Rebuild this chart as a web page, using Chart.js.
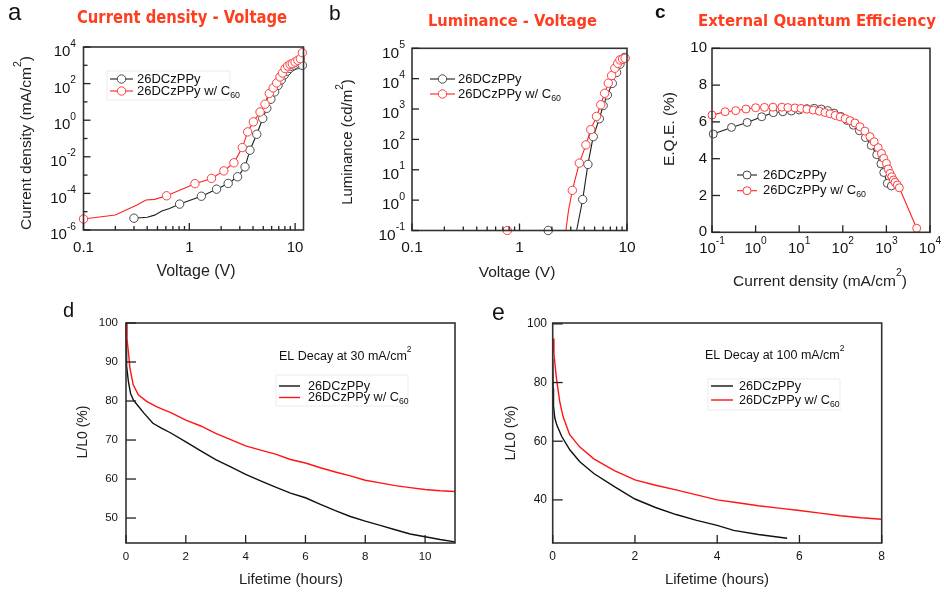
<!DOCTYPE html>
<html><head><meta charset="utf-8">
<script src="https://cdn.jsdelivr.net/npm/chart.js@4"></script>
<style>
html,body{margin:0;padding:0;background:#fff;}
#wrap{position:relative;width:944px;height:594px;overflow:hidden;background:#fff;}
#wrap canvas{position:absolute;left:0;top:0;}
</style></head><body><div id="wrap">
<canvas id="ca" width="944" height="594"></canvas>
<canvas id="cb" width="944" height="594"></canvas>
<canvas id="cc" width="944" height="594"></canvas>
<canvas id="cd" width="944" height="594"></canvas>
<canvas id="ce" width="944" height="594"></canvas>
</div>
<script>
// ---------------- DATA ----------------
const seriesNames = ['26DCzPPy', '26DCzPPy w/ C_{60}'];

// (a) Current density - Voltage  (V, mA/cm2)
const aBlackV = [0.30,0.40,0.47,0.55,0.65,0.81,1.30,1.81,2.33,2.86,3.36,3.74,4.34,4.94,5.40,5.90,6.40,6.90,7.40,7.90,8.40,8.90,9.40,9.90,10.5,11.1,11.7];
const aBlackJ = [4.4e-6,5.0e-6,6.5e-6,1.1e-5,1.5e-5,2.6e-5,7.0e-5,1.7e-4,3.5e-4,8.1e-4,2.8e-3,2.3e-2,0.17,1.24,4.5,14,35,80,160,300,480,680,850,980,1080,1100,1000];
const aBlackMark = [1,0,0,0,0,1,1,1,1,1,1,1,1,1,1,1,1,1,1,1,1,1,1,1,1,1,1];
const aRedV = [0.10,0.20,0.32,0.39,0.47,0.61,1.13,1.62,2.12,2.64,3.17,3.56,4.03,4.66,5.20,5.70,6.20,6.70,7.20,7.60,8.04,8.50,8.97,9.40,10.0,10.6,11.2,11.7];
const aRedJ = [4.0e-6,6.6e-6,2.3e-5,4.4e-5,4.7e-5,7.4e-5,3.4e-4,6.6e-4,1.7e-3,4.7e-3,0.032,0.23,0.81,2.8,7.5,29,58,109,230,380,660,910,1140,1230,1510,1880,2300,4900];
const aRedMark = [1,0,0,0,0,1,1,1,1,1,1,1,1,1,1,1,1,1,1,1,1,1,1,1,1,1,1,1];
const aXTicks = [0.1, 1, 10];
const aXTickText = ['0.1', '1', '10'];
const aYTicks = [1e-6, 1e-4, 1e-2, 1, 1e2, 1e4];
const aYTickText = ['10^{-6}', '10^{-4}', '10^{-2}', '10^{0}', '10^{2}', '10^{4}'];
const aYMinorTicks = [1e-5, 1e-3, 1e-1, 1e1, 1e3];

// (b) Luminance - Voltage  (V, cd/m2)
const bBlackV = [1.85,3.40,3.87,4.33,4.85,5.53,6.00,6.56,7.30,8.00,8.60,9.10,9.50];
const bBlackL = [0.1,0.1,1.05,15,123,480,1300,2900,7000,16000,30000,44000,50000];
const bBlackMark = [1,0,1,1,1,1,1,1,1,1,1,1,1];
const bRedV = [0.77,2.70,2.85,3.10,3.60,4.15,4.60,5.20,5.70,6.20,6.70,7.20,7.70,8.20,8.60,9.10,9.60];
const bRedL = [0.1,0.1,0.43,2.1,16.6,66,210,570,1380,3300,7100,12600,22000,32000,41500,44500,47000];
const bRedMark = [1,0,0,1,1,1,1,1,1,1,1,1,1,1,1,1,1];
const bXTicks = [0.1, 1, 10];
const bXTickText = ['0.1', '1', '10'];
const bYTicks = [0.1, 1, 10, 100, 1e3, 1e4, 1e5];
const bYTickText = ['10^{-1}', '10^{0}', '10^{1}', '10^{2}', '10^{3}', '10^{4}', '10^{5}'];

// (c) External Quantum Efficiency  (mA/cm2, %)
const cBlackJ = [0.107,0.28,0.64,1.38,2.55,4.2,6.6,10,15,22,32,45,63,90,125,175,240,330,450,600,750,870,1050,1300];
const cBlackEQE = [5.34,5.70,5.97,6.28,6.50,6.55,6.59,6.65,6.72,6.74,6.70,6.62,6.48,6.30,6.08,5.82,5.52,5.15,4.72,4.22,3.72,3.25,2.66,2.52];
const cRedJ = [0.1,0.2,0.35,0.6,1.0,1.6,2.5,4.0,5.5,8.0,11,15,21,29,39,51,67,87,113,147,190,247,320,420,525,650,770,870,1000,1100,1210,1330,1450,1580,1780,1980,4950];
const cRedEQE = [6.37,6.55,6.61,6.70,6.77,6.79,6.80,6.80,6.78,6.76,6.73,6.69,6.64,6.58,6.51,6.44,6.35,6.27,6.18,6.07,5.94,5.74,5.50,5.20,4.92,4.60,4.29,4.02,3.75,3.44,3.20,3.02,2.84,2.72,2.57,2.42,0.22];
const cXTicks = [0.1, 1, 10, 100, 1000, 10000];
const cXTickText = ['10^{-1}', '10^{0}', '10^{1}', '10^{2}', '10^{3}', '10^{4}'];
const cYTicks = [0, 2, 4, 6, 8, 10];
const cYTickText = ['0', '2', '4', '6', '8', '10'];

// (d) EL decay at 30 mA/cm2  (hours, %)
const dBlackT = [0,0.01,0.03,0.08,0.15,0.25,0.4,0.6,0.9,1.2,1.5,2,2.5,3,3.5,4,4.5,5,5.5,6,6.5,7,7.5,8,8.5,9,9.5,10,10.5,11];
const dBlackL = [100,94,89,85,82,80.2,78.8,76.9,74.3,73,71.8,69.5,67.2,65.0,63.1,61.2,59.5,57.9,56.4,55.2,53.5,51.9,50.4,49.2,48.1,47.0,45.9,45.2,44.5,43.9];
const dRedT = [0,0.03,0.08,0.13,0.24,0.41,0.69,1.0,1.25,1.5,2,2.5,3,3.5,4,4.5,5,5.5,6,6.5,7,7.5,8,8.5,9,9.5,10,10.5,11];
const dRedL = [100,96,92.7,88.5,84.2,81.6,79.9,78.6,77.8,77.0,75.1,73.6,71.7,70.1,68.5,67.4,66.4,65.0,64.1,62.9,61.8,60.8,59.7,59.0,58.3,57.8,57.3,57.0,56.8];
const dXTicks = [0, 2, 4, 6, 8, 10];
const dXTickText = ['0', '2', '4', '6', '8', '10'];
const dYTicks = [50, 60, 70, 80, 90, 100];
const dYTickText = ['50', '60', '70', '80', '90', '100'];

// (e) EL decay at 100 mA/cm2  (hours, %)
const eBlackT = [0,0.01,0.02,0.05,0.1,0.22,0.42,0.66,1.0,1.5,2.0,2.5,3.0,3.5,4.0,4.4,5.0,5.7];
const eBlackL = [88,78,72,68,65.5,61.6,57,53,49,44.5,40.3,37.4,35,33,31.3,29.6,28.2,26.9];
const eRedT = [0.01,0.03,0.05,0.09,0.17,0.25,0.41,0.66,1.0,1.5,2.0,2.5,3.0,3.5,4.0,4.5,5.0,5.5,6.0,6.5,7.0,7.5,8.0];
const eRedL = [95,90,87,81.6,73.6,68.5,62.3,58,54,50,46.8,45,43.4,41.7,40,39,38,37.2,36.4,35.5,34.6,33.9,33.4];
const eXTicks = [0, 2, 4, 6, 8];
const eXTickText = ['0', '2', '4', '6', '8'];
const eYTicks = [40, 60, 80, 100];
const eYTickText = ['40', '60', '80', '100'];

// ---------------- DRAWING HELPERS ----------------
const PAGE_W = 944, PAGE_H = 594;
const FAM = '"Liberation Sans", Arial, Helvetica, sans-serif';
const TITLE_FAM = '"DejaVu Sans Condensed", "DejaVu Sans", sans-serif';
const RED_TITLE = '#ff3d1f';

function parseRich(s) {
  const parts = []; let i = 0, buf = '';
  while (i < s.length) {
    const c = s[i];
    if ((c === '^' || c === '_') && s[i + 1] === '{') {
      if (buf) { parts.push({t: buf}); buf = ''; }
      const j = s.indexOf('}', i);
      parts.push({t: s.slice(i + 2, j), s: c === '^' ? 'sup' : 'sub'});
      i = j + 1;
    } else { buf += c; i++; }
  }
  if (buf) parts.push({t: buf});
  return parts;
}
function fnt(size, weight, fam) { return (weight || 'normal') + ' ' + size + 'px ' + (fam || FAM); }
function drawRich(ctx, str, x, y, opt) {
  const parts = parseRich(str);
  const size = opt.size, sr = 0.68;
  let w = 0;
  parts.forEach(p => { ctx.font = fnt(p.s ? size * sr : size, opt.weight); w += ctx.measureText(p.t).width; });
  let cx = opt.align === 'right' ? x - w : opt.align === 'center' ? x - w / 2 : x;
  ctx.textBaseline = 'middle'; ctx.textAlign = 'left';
  ctx.fillStyle = opt.color || '#141414';
  parts.forEach(p => {
    let s = size, dy = 0;
    if (p.s === 'sup') { s = size * sr; dy = -size * 0.55; }
    else if (p.s === 'sub') { s = size * sr; dy = size * 0.33; }
    ctx.font = fnt(s, opt.weight);
    ctx.fillText(p.t, cx, y + dy);
    cx += ctx.measureText(p.t).width;
  });
}
function logMinors(min, max) {
  const out = [];
  for (let e = Math.floor(Math.log10(min)); e <= Math.ceil(Math.log10(max)); e++) {
    for (let m = 2; m <= 9; m++) { const v = m * Math.pow(10, e); if (v > min * 1.0001 && v < max * 0.9999) out.push(v); }
  }
  return out;
}

const decoPlugin = {
  id: 'deco',
  afterDatasetsDraw(chart, args, o) {
    const ctx = chart.ctx, ca = chart.chartArea, xs = chart.scales.x, ys = chart.scales.y;
    ctx.save();
    // frame
    ctx.strokeStyle = '#333'; ctx.lineWidth = 1.6;
    ctx.strokeRect(ca.left, ca.top, ca.right - ca.left, ca.bottom - ca.top);
    // inward ticks
    ctx.lineWidth = 1.3; ctx.strokeStyle = '#222';
    const tx = (v, len) => { const p = xs.getPixelForValue(v); ctx.beginPath(); ctx.moveTo(p, ca.bottom); ctx.lineTo(p, ca.bottom - len); ctx.stroke(); };
    const ty = (v, len) => { const p = ys.getPixelForValue(v); ctx.beginPath(); ctx.moveTo(ca.left, p); ctx.lineTo(ca.left + len, p); ctx.stroke(); };
    const X = o.x, Y = o.y;
    X.ticks.forEach(v => tx(v, X.len));
    (X.minor || []).forEach(v => tx(v, X.minorLen));
    if (X.logMinor) logMinors(xs.min, xs.max).forEach(v => tx(v, X.minorLen));
    Y.ticks.forEach(v => ty(v, Y.len));
    (Y.minor || []).forEach(v => ty(v, Y.minorLen));
    // tick labels
    X.ticks.forEach((v, i) => drawRich(ctx, X.labels[i], xs.getPixelForValue(v), X.labelY, {align: 'center', size: X.size}));
    Y.ticks.forEach((v, i) => drawRich(ctx, Y.labels[i], Y.labelX, ys.getPixelForValue(v) + (Y.dy || 0), {align: 'right', size: Y.size}));
    // axis titles
    drawRich(ctx, o.xTitle.text, o.xTitle.x, o.xTitle.y, {align: 'center', size: o.xTitle.size, color: '#222'});
    ctx.save(); ctx.translate(o.yTitle.x, o.yTitle.y); ctx.rotate(-Math.PI / 2);
    drawRich(ctx, o.yTitle.text, 0, 0, {align: 'center', size: o.yTitle.size, color: '#222'});
    ctx.restore();
    // panel letter
    ctx.font = fnt(o.letter.size, o.letter.weight); ctx.fillStyle = '#111'; ctx.textAlign = 'left'; ctx.textBaseline = 'alphabetic';
    ctx.fillText(o.letter.text, o.letter.x, o.letter.y);
    // red title
    if (o.title) {
      const t = o.title;
      ctx.font = 'bold ' + t.size + 'px ' + TITLE_FAM;
      try { ctx.fontStretch = 'condensed'; } catch (e) {}
      const w = ctx.measureText(t.text).width;
      ctx.save(); ctx.translate(t.x, t.y); ctx.scale(t.width / w, 1);
      ctx.fillStyle = RED_TITLE; ctx.textBaseline = 'alphabetic'; ctx.fillText(t.text, 0, 0);
      ctx.restore();
      try { ctx.fontStretch = 'normal'; } catch (e) {}
    }
    // legend
    const L = o.legend;
    if (L.box) { ctx.strokeStyle = '#ececec'; ctx.lineWidth = 1; ctx.strokeRect(L.box[0], L.box[1], L.box[2] - L.box[0], L.box[3] - L.box[1]); }
    if (L.head) drawRich(ctx, L.head.text, L.head.x, L.head.y, {align: 'left', size: L.head.size, color: '#111'});
    L.items.forEach((it, k) => {
      const ds = chart.data.datasets[it.ds];
      const yy = L.rows[k];
      ctx.strokeStyle = ds.borderColor; ctx.lineWidth = ds.borderWidth;
      ctx.beginPath(); ctx.moveTo(L.x1, yy); ctx.lineTo(L.x2, yy); ctx.stroke();
      if (L.markers) {
        ctx.beginPath(); ctx.arc((L.x1 + L.x2) / 2, yy, L.r, 0, Math.PI * 2);
        ctx.fillStyle = '#fff'; ctx.fill();
        ctx.strokeStyle = ds.pointBorderColor; ctx.lineWidth = 1; ctx.stroke();
      }
      drawRich(ctx, it.text, L.tx, yy, {align: 'left', size: L.size, color: '#111'});
    });
    ctx.restore();
  }
};

function pts(xs, ys) { return xs.map((x, i) => ({x, y: ys[i]})); }
const BLACK = {line: '#1e1e1e', pt: '#4a4a4a'};
const RED = {line: '#ff2020', pt: '#ff3c3c'};
function markedSeries(label, xs, ys, marks, col, r) {
  return {
    label, data: pts(xs, ys), clip: false, tension: 0, fill: false,
    borderColor: col.line, borderWidth: 1.1,
    pointRadius: marks.map(m => m ? r : 0), pointHoverRadius: 0,
    pointBorderColor: col.pt, pointBackgroundColor: '#ffffff', pointBorderWidth: 1
  };
}
function lineSeries(label, xs, ys, col) {
  return {label, data: pts(xs, ys), clip: false, tension: 0, fill: false,
    borderColor: col === RED ? '#ff1414' : '#111111', pointBorderColor: col.pt, borderWidth: 1.4, pointRadius: 0};
}
function makeChart(id, box, xScale, yScale, datasets, deco) {
  return new Chart(document.getElementById(id), {
    type: 'line',
    data: {datasets},
    options: {
      responsive: false, animation: false, devicePixelRatio: 1, events: [],
      layout: {padding: {left: box[0], top: box[1], right: PAGE_W - box[2], bottom: PAGE_H - box[3]}},
      scales: {x: Object.assign({display: false}, xScale), y: Object.assign({display: false}, yScale)},
      plugins: {legend: {display: false}, tooltip: {enabled: false}, deco}
    },
    plugins: [decoPlugin]
  });
}
const ones = a => a.map(() => 1);

// (a)
makeChart('ca', [83.5, 47, 303.5, 230],
  {type: 'logarithmic', min: 0.1, max: 12}, {type: 'logarithmic', min: 1e-6, max: 1e4},
  [markedSeries(seriesNames[1], aRedV, aRedJ, aRedMark, RED, 4.2),
   markedSeries(seriesNames[0], aBlackV, aBlackJ, aBlackMark, BLACK, 4.2)],
  {
    x: {ticks: aXTicks, labels: aXTickText, logMinor: true, len: 7, minorLen: 4, labelY: 248, size: 15},
    y: {ticks: aYTicks, labels: aYTickText, minor: aYMinorTicks, len: 7, minorLen: 4, labelX: 76, dy: 5, size: 15},
    xTitle: {text: 'Voltage (V)', x: 196, y: 272, size: 16},
    yTitle: {text: 'Current density (mA/cm^{2})', x: 27, y: 143, size: 15.5},
    title: {text: 'Current density - Voltage', x: 77, y: 23, size: 17, width: 210},
    letter: {text: 'a', x: 8, y: 20, size: 24},
    legend: {x1: 110, x2: 133, tx: 137, rows: [79, 91], r: 4.2, size: 13, markers: true, box: [107, 71, 230, 100],
      items: [{ds: 1, text: seriesNames[0]}, {ds: 0, text: seriesNames[1]}]}
  });

// (b)
makeChart('cb', [412, 48.3, 627, 230.5],
  {type: 'logarithmic', min: 0.1, max: 10}, {type: 'logarithmic', min: 0.1, max: 1e5},
  [markedSeries(seriesNames[1], bRedV, bRedL, bRedMark, RED, 4.2),
   markedSeries(seriesNames[0], bBlackV, bBlackL, bBlackMark, BLACK, 4.2)],
  {
    x: {ticks: bXTicks, labels: bXTickText, logMinor: true, len: 7, minorLen: 4, labelY: 248, size: 15.5},
    y: {ticks: bYTicks, labels: bYTickText, len: 7, minorLen: 4, labelX: 405, dy: 5, size: 15.5},
    xTitle: {text: 'Voltage (V)', x: 517, y: 273, size: 15.5},
    yTitle: {text: 'Luminance (cd/m^{2})', x: 348, y: 142, size: 15},
    title: {text: 'Luminance - Voltage', x: 428, y: 26, size: 16, width: 169},
    letter: {text: 'b', x: 329, y: 20, size: 21},
    legend: {x1: 430, x2: 455, tx: 458, rows: [79, 94], r: 4.2, size: 13, markers: true,
      items: [{ds: 1, text: seriesNames[0]}, {ds: 0, text: seriesNames[1]}]}
  });

// (c)
makeChart('cc', [712, 48.3, 930, 232.3],
  {type: 'logarithmic', min: 0.1, max: 1e4}, {type: 'linear', min: 0, max: 10},
  [markedSeries(seriesNames[1], cRedJ, cRedEQE, ones(cRedJ), RED, 4),
   markedSeries(seriesNames[0], cBlackJ, cBlackEQE, ones(cBlackJ), BLACK, 4)],
  {
    x: {ticks: cXTicks, labels: cXTickText, len: 7, labelY: 249, size: 15},
    y: {ticks: cYTicks, labels: cYTickText, len: 8, labelX: 707, dy: 0, size: 15},
    xTitle: {text: 'Current density (mA/cm^{2})', x: 820, y: 282, size: 15.5},
    yTitle: {text: 'E.Q.E. (%)', x: 670, y: 129, size: 15.5},
    title: {text: 'External Quantum Efficiency', x: 698, y: 26, size: 15.5, width: 238},
    letter: {text: 'c', x: 655, y: 18, size: 19, weight: 'bold'},
    legend: {x1: 737, x2: 757, tx: 763, rows: [175, 190.7], r: 4, size: 13, markers: true,
      items: [{ds: 1, text: seriesNames[0]}, {ds: 0, text: seriesNames[1]}]}
  });

// (d)
makeChart('cd', [126, 323, 455, 543],
  {type: 'linear', min: 0, max: 11}, {type: 'linear', min: 43.6, max: 100},
  [lineSeries(seriesNames[1], dRedT, dRedL, RED), lineSeries(seriesNames[0], dBlackT, dBlackL, BLACK)],
  {
    x: {ticks: dXTicks, labels: dXTickText, len: 8, labelY: 557, size: 11.5},
    y: {ticks: dYTicks, labels: dYTickText, len: 10, labelX: 118, dy: 0, size: 11.5},
    xTitle: {text: 'Lifetime (hours)', x: 291, y: 580, size: 15},
    yTitle: {text: 'L/L0 (%)', x: 83, y: 432, size: 14},
    letter: {text: 'd', x: 63, y: 317, size: 20},
    legend: {x1: 279, x2: 300, tx: 308, rows: [386, 397.5], size: 12.7, markers: false, box: [276, 375, 408, 406],
      head: {text: 'EL Decay at 30 mA/cm^{2}', x: 279, y: 357, size: 12.5},
      items: [{ds: 1, text: seriesNames[0]}, {ds: 0, text: seriesNames[1]}]}
  });

// (e)
makeChart('ce', [552.7, 323, 881.7, 543],
  {type: 'linear', min: 0, max: 8}, {type: 'linear', min: 25.3, max: 100.3},
  [lineSeries(seriesNames[1], eRedT, eRedL, RED), lineSeries(seriesNames[0], eBlackT, eBlackL, BLACK)],
  {
    x: {ticks: eXTicks, labels: eXTickText, len: 8, labelY: 557, size: 12},
    y: {ticks: eYTicks, labels: eYTickText, len: 10, labelX: 547, dy: 0, size: 12},
    xTitle: {text: 'Lifetime (hours)', x: 717, y: 580, size: 15},
    yTitle: {text: 'L/L0 (%)', x: 511, y: 433, size: 14.5},
    letter: {text: 'e', x: 492, y: 320, size: 23},
    legend: {x1: 711, x2: 733, tx: 739, rows: [386, 400], size: 12.7, markers: false, box: [708, 379, 840, 410],
      head: {text: 'EL Decay at 100 mA/cm^{2}', x: 705, y: 356, size: 12.5},
      items: [{ds: 1, text: seriesNames[0]}, {ds: 0, text: seriesNames[1]}]}
  });
</script>
</body></html>
